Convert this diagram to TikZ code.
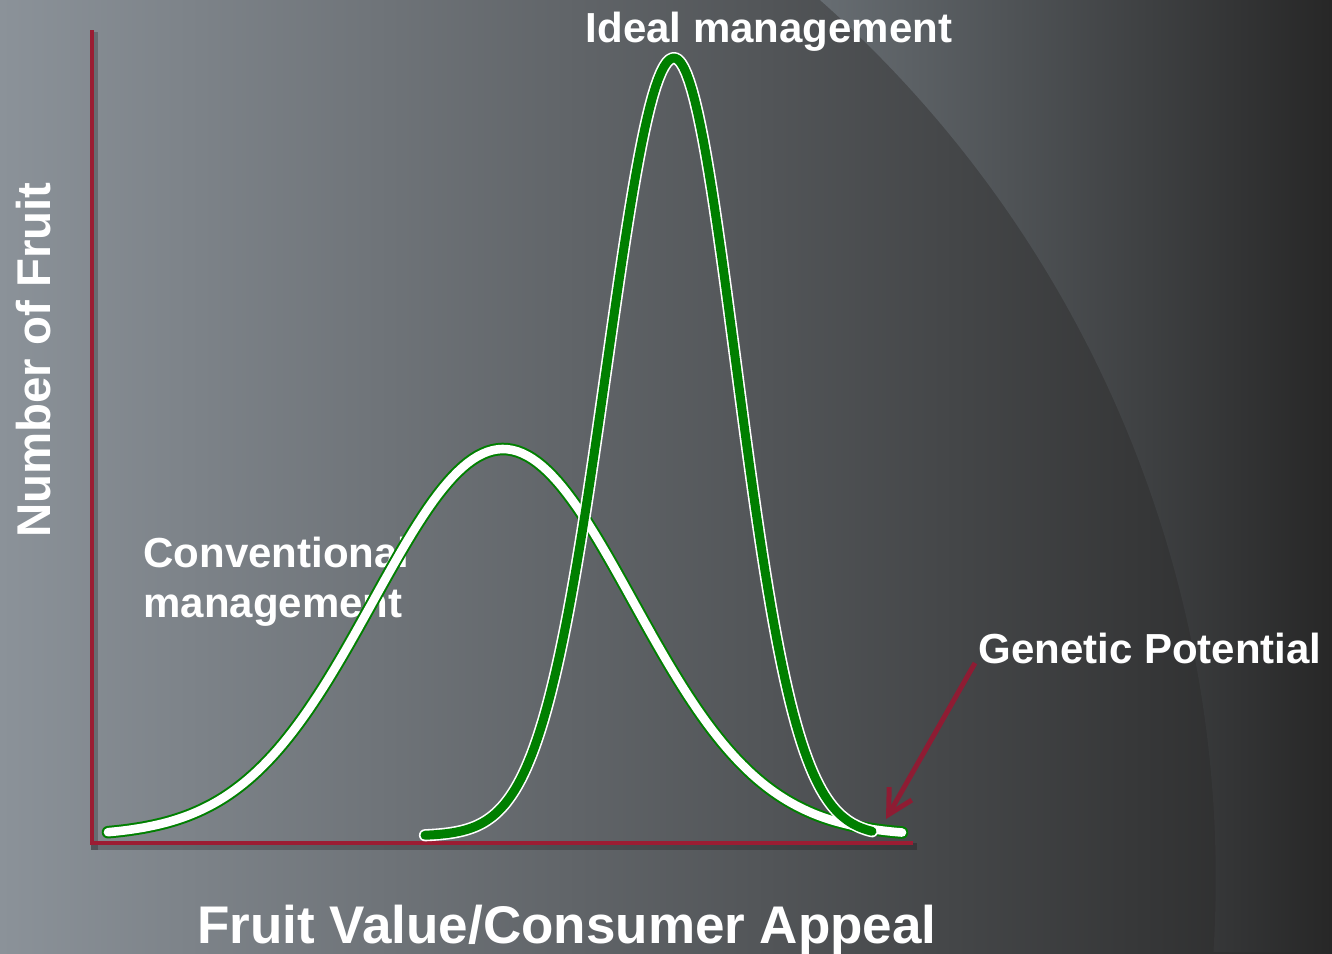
\documentclass[tikz,border=0pt]{standalone}
\usepackage{fontspec}
\setmainfont{Liberation Sans}
\usepackage{tkz-euclide}
\usetikzlibrary{arrows.meta}
\definecolor{axisred}{HTML}{9B1D33}
\definecolor{arrowred}{HTML}{8E1C33}
\definecolor{curvegreen}{HTML}{007F00}
\definecolor{bgleft}{HTML}{8B9299}
\definecolor{bgmid}{HTML}{55595C}
\definecolor{bgright}{HTML}{282828}
\definecolor{arcleft}{HTML}{676D72}
\definecolor{arcmid}{HTML}{404448}
\definecolor{arcright}{HTML}{272727}
\tikzset{axis line/.style={draw=axisred,line width=2.4pt,line cap=rect},
    axis shadow/.style={draw=black,opacity=.22,line width=3.5pt,line cap=rect},
    label text/.style={text=white,inner sep=0pt,
        font=\bfseries\fontsize{21}{25}\selectfont},
    xtitle text/.style={text=white,inner sep=0pt,
        font=\bfseries\fontsize{26.5}{30}\selectfont},
    ytitle text/.style={text=white,inner sep=0pt,
        font=\bfseries\fontsize{23.7}{28}\selectfont},
    conventional curve/.style={draw=curvegreen,double=white,
        double distance=4.3pt,line width=1pt,line cap=round,line join=round},
    ideal curve/.style={draw=white,double=curvegreen,
        double distance=4.5pt,line width=.8pt,line cap=round,line join=round},
    pointer/.style={draw=arrowred,line width=2.5pt,
        -{Straight Barb[length=12pt,width=13pt]}}
}

\begin{document}
\begin{tikzpicture}[x=.5pt,y=-.5pt]
        \useasboundingbox (0,0) rectangle (1332,953);
        \clip (0,0) rectangle (1332,953);
        % background
        \shade[left color=bgleft,middle color=bgmid,right color=bgright]
            (0,0) rectangle (1332,953);
        \shade[left color=arcleft,middle color=arcmid,right color=arcright]
            (820,0) arc[start angle=-48.5,end angle=3.6,radius=1173]
            -- (1332,953) -- (1332,0) -- cycle;
        % axes
        \tkzDefPoint(92,32){T}
        \tkzDefPoint(92,843){O}
        \tkzDefPoint(911,843){X}
        \begin{scope}[transform canvas={xshift=1pt,yshift=-1.5pt}]
            \tkzDrawSegments[axis shadow](O,T O,X)
        \end{scope}
        \tkzDrawSegments[axis line](O,T O,X)
        % labels
        \node[label text,anchor=base] (ideal) at (769,42) {Ideal management};
        \node[label text,anchor=north west,align=left] (conv) at (143,537)
            {Conventional\\management};
        \node[label text,anchor=base west] (gp) at (978,663) {Genetic Potential};
        \node[xtitle text,anchor=base] (xtitle) at (567,943)
            {Fruit Value/Consumer Appeal};
        \node[ytitle text,anchor=base,rotate=90] (ytitle) at (50,360)
            {Number of Fruit};
        % curves
        \draw[conventional curve] plot[domain=108:902,samples=160]
            (\x,{836-387*exp(-((\x-503)/130)^2/2)});
        \draw[ideal curve] plot[domain=425:872,samples=160]
            (\x,{836-778*exp(-((\x-674)/(\x<674?67:62))^2/2)});
        % genetic potential
        \coordinate (gptip) at (886,819);
        \draw[pointer] ([xshift=-1.5pt]gp.base west) -- (gptip);
    \end{tikzpicture}
\end{document}
